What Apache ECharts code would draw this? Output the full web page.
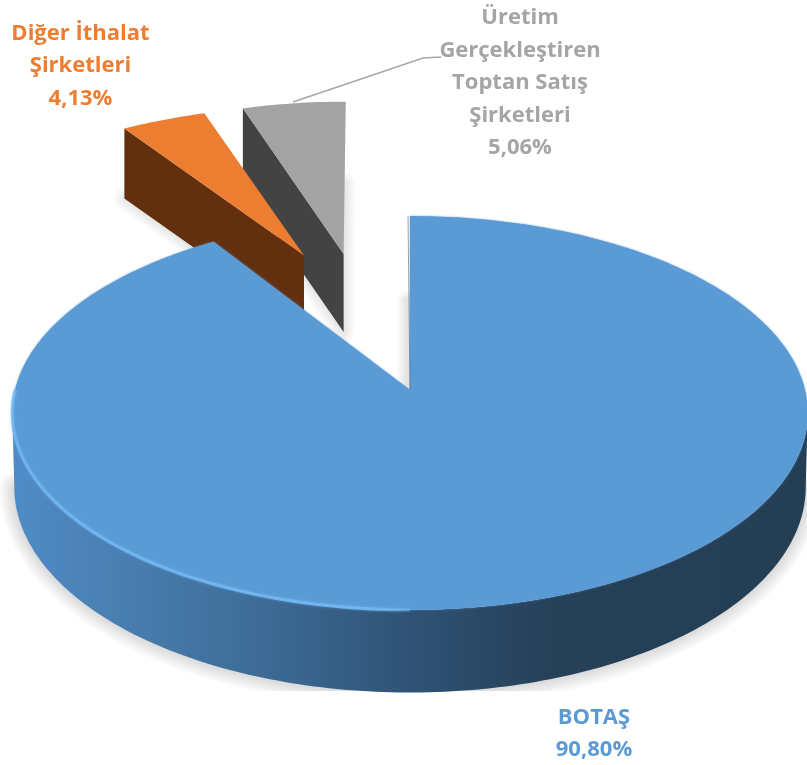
<!DOCTYPE html>
<html><head><meta charset="utf-8">
<style>html,body{margin:0;padding:0;background:#fff}#c{width:807px;height:765px}</style>
<script src="https://cdn.jsdelivr.net/npm/echarts@6/dist/echarts.min.js"></script>
</head><body><div id="c"></div>
<script>
const categories = ['BOTAŞ', 'Diğer İthalat\nŞirketleri', 'Üretim\nGerçekleştiren\nToptan Satış\nŞirketleri'];
const shares = [90.80, 4.13, 5.06];
const shareLabels = ['90,80%', '4,13%', '5,06%'];

const total = shares.reduce((a, b) => a + b, 0);
const cx = 410, cy = 390, R = 395, S = 194.2, K = 0.1167;
const looks = [
  {top:'#5B9BD5', off:[0,0], reach:[0,0], depth:73, perspDepth:true, z:10, lx:594, ly:734},
  {top:'#ED7D31', side:'#63300F', off:[-0.292,-0.754], reach:[-0.02,-0.005], depth:70, z:6, lx:80.5, ly:66},
  {top:'#A3A3A3', side:'#434343', off:[-0.183,-0.762], reach:[-0.0137,-0.034], depth:78, z:3, lx:520, ly:83}
];
const labelColors = ['#5B9BD5', '#ED7D31', '#A5A5A5'];

function project(u, v, d) {
  const w = 1 - K * v;
  return [cx + R * u / w, cy + S * v / w + (d || 0)];
}
function rim(theta, look, depth) {
  const t = theta * Math.PI / 180;
  const u = Math.sin(t) + look.off[0] + look.reach[0], v = -Math.cos(t) + look.off[1] + look.reach[1];
  const w = 1 - K * v;
  const p = project(u, v, depth ? (look.perspDepth ? depth / w : depth) : 0);
  if (depth && look.perspDepth) p[0] = cx + (p[0] - cx) * 0.995;
  return p;
}
function arc(a0, a1, look, depth) {
  const n = Math.max(2, Math.ceil(Math.abs(a1 - a0)));
  const pts = [];
  for (let i = 0; i <= n; i++) pts.push(rim(a0 + (a1 - a0) * i / n, look, depth));
  return pts;
}
// soft shadow built from layered translucent strokes
function softShadow(points, z2, layers, maxWidth, alpha) {
  const out = [];
  for (let n = 1; n <= layers; n++) {
    out.push({type:'polyline', z2, shape:{points}, style:{
      fill:null, stroke:'rgba(0,0,0,' + alpha + ')', lineWidth:maxWidth * n / layers,
      lineJoin:'round', lineCap:'round'
    }});
  }
  return out;
}

function renderItem(params, api) {
  const i = params.dataIndex;
  const look = looks[i];
  let start = 0;
  for (let k = 0; k < i; k++) start += shares[k];
  const a0 = start / total * 360;
  const a1 = (start + api.value(0)) / total * 360;
  const apex = project(look.off[0], look.off[1], 0);
  const children = [];
  const topPoints = [apex].concat(arc(a0, a1, look));

  if (i === 0) {
    const tangent = Math.acos(-K) * 180 / Math.PI;
    const sidePts = arc(tangent, 360 - tangent, look).concat(arc(360 - tangent, tangent, look, look.depth));
    const ground = arc(tangent, 360 - tangent, look, look.depth);
    softShadow(ground, 1, 9, 30, 0.016).forEach(e => children.push(e));
    children.push({type:'rect', z2:2, shape:{x:0, y:691, width:807, height:74}, style:{fill:'#fff'}});
    softShadow([[apex[0] - 3, apex[1]], [apex[0] - 3, apex[1] - 90]], 2, 7, 20, 0.014).forEach(e => children.push(e));
    const grad = new echarts.graphic.LinearGradient(12, 0, 807, 0, [
      {offset:0, color:'#4F8CC6'},
      {offset:0.12, color:'#4A80B3'},
      {offset:0.3, color:'#3E6D98'},
      {offset:0.45, color:'#33597E'},
      {offset:0.55, color:'#2C4D6D'},
      {offset:0.68, color:'#264058'},
      {offset:1, color:'#243E54'}
    ], true);
    children.push({type:'polygon', z2:look.z, shape:{points:sidePts}, style:{fill:grad}});
    children.push({type:'polygon', z2:look.z + 1, shape:{points:topPoints},
      style:{fill:look.top, shadowColor:'#5B9BD5', shadowBlur:2}});
    const bevel = new echarts.graphic.LinearGradient(12, 0, 807, 0, [
      {offset:0, color:'rgba(115,185,245,0.75)'},
      {offset:0.45, color:'rgba(115,185,245,0.9)'},
      {offset:0.56, color:'rgba(115,185,245,0)'},
      {offset:1, color:'rgba(115,185,245,0)'}
    ], true);
    children.push({type:'polyline', z2:look.z + 2, shape:{points:arc(180, 270, look)},
      style:{stroke:bevel, lineWidth:3, fill:null, shadowColor:'rgba(115,185,245,0.6)', shadowBlur:3}});
    children.push({type:'line', z2:look.z + 2, shape:{x1:apex[0], y1:apex[1], x2:rim(0, look)[0] - 2, y2:rim(0, look)[1]},
      style:{stroke:'rgba(30,60,90,0.45)', lineWidth:1}});
  } else {
    const out = rim(a0, look);
    const outB = rim(a0, look, look.depth);
    const apexB = project(look.off[0], look.off[1], look.depth);
    const face = [out, apex, apexB, outB];
    const cast = i === 2 ? [outB, apexB, [apexB[0] + 1, apexB[1] - look.depth * 1.9]] : [outB, apexB];
    softShadow(cast, look.z - 1, 6, 22, 0.014).forEach(e => children.push(e));
    children.push({type:'polygon', z2:look.z, shape:{points:face}, style:{fill:look.side}});
    children.push({type:'polygon', z2:look.z + 1, shape:{points:topPoints}, style:{fill:look.top}});
  }
  if (i === 2) {
    children.push({type:'polyline', z2:look.z + 2, shape:{points:[[293,102],[423,58],[441,57]]},
      style:{stroke:'#A6A6A6', lineWidth:1.5, fill:null}});
  }
  children.push({type:'text', z2:30, style:{
    x:look.lx, y:look.ly,
    text:categories[i] + '\n' + shareLabels[i],
    fill:labelColors[i], font:'bold 22px "Open Sans"', align:'center', verticalAlign:'middle',
    lineHeight:32.4
  }});
  return {type:'group', children};
}

const chart = echarts.init(document.getElementById('c'), null, {renderer:'canvas'});
chart.setOption({
  animation:false,
  backgroundColor:'#fff',
  series:[{type:'custom', coordinateSystem:'none', renderItem, silent:true,
    data:shares.map((v, i) => ({name:categories[i], value:[v]}))}]
});
</script></body></html>
